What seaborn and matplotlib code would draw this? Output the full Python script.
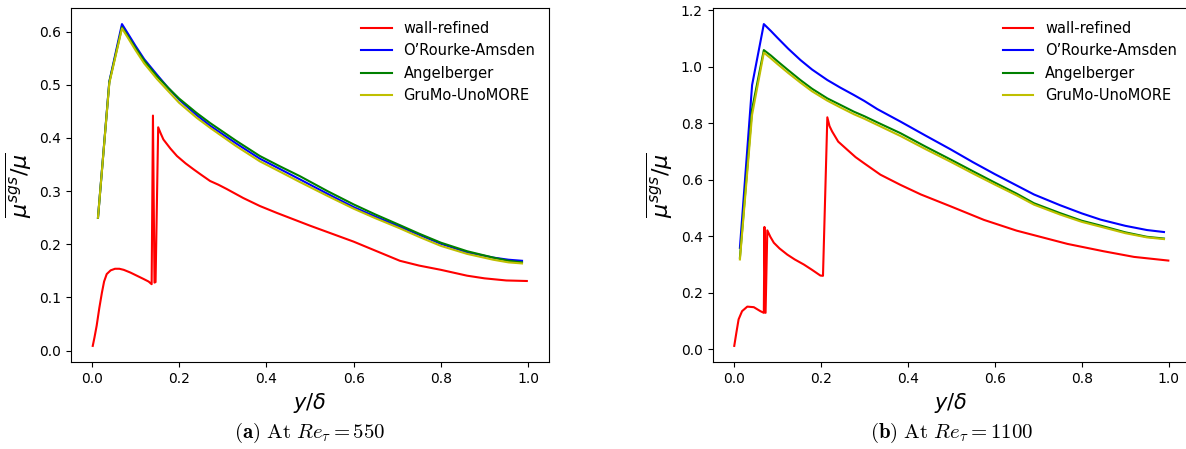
import matplotlib
matplotlib.use("Agg")
import matplotlib.pyplot as plt
import seaborn as sns

# ---------------------------------------------------------------------------
# Data (Re_tau = 550 and Re_tau = 1100)
# ---------------------------------------------------------------------------

series_names = ["wall-refined", "O\u2019Rourke-Amsden", "Angelberger", "GruMo-UnoMORE"]
series_colors = ["red", "blue", "green", "y"]

# Re_tau = 550
x550_wall = [0.002, 0.006, 0.011, 0.017, 0.023, 0.028, 0.034, 0.043, 0.053, 0.063,
             0.073, 0.088, 0.103, 0.118, 0.130, 0.137, 0.140, 0.1435, 0.146, 0.152,
             0.158, 0.164, 0.18, 0.195, 0.215, 0.233, 0.25, 0.271, 0.29, 0.309,
             0.347, 0.385, 0.424, 0.462, 0.5, 0.55, 0.6, 0.65, 0.706, 0.75,
             0.8, 0.86, 0.9, 0.95, 0.997]
y550_wall = [0.009, 0.025, 0.047, 0.080, 0.109, 0.130, 0.144, 0.151, 0.154, 0.154,
             0.152, 0.147, 0.141, 0.135, 0.130, 0.125, 0.442, 0.128, 0.129, 0.420,
             0.408, 0.397, 0.380, 0.366, 0.352, 0.341, 0.331, 0.319, 0.312, 0.304,
             0.287, 0.272, 0.259, 0.247, 0.235, 0.220, 0.205, 0.188, 0.169, 0.160,
             0.152, 0.141, 0.136, 0.132, 0.131]

x550_model = [0.014, 0.040, 0.069, 0.085, 0.10, 0.12, 0.149, 0.175, 0.2, 0.24,
              0.271, 0.33, 0.385, 0.43, 0.477, 0.54, 0.6, 0.65, 0.706, 0.75,
              0.8, 0.86, 0.92, 0.955, 0.986]
y550_oa = [0.250, 0.506, 0.614, 0.593, 0.573, 0.548, 0.519, 0.494, 0.472, 0.443,
           0.423, 0.390, 0.361, 0.342, 0.322, 0.295, 0.270, 0.252, 0.233, 0.218,
           0.201, 0.185, 0.175, 0.171, 0.169]
y550_ang = [0.250, 0.505, 0.608, 0.588, 0.569, 0.545, 0.516, 0.494, 0.474, 0.447,
            0.428, 0.395, 0.366, 0.347, 0.328, 0.300, 0.275, 0.256, 0.236, 0.220,
            0.203, 0.187, 0.175, 0.169, 0.166]
y550_grumo = [0.250, 0.503, 0.606, 0.585, 0.565, 0.540, 0.511, 0.488, 0.466, 0.438,
              0.419, 0.385, 0.356, 0.337, 0.317, 0.291, 0.267, 0.249, 0.230, 0.214,
              0.197, 0.182, 0.171, 0.166, 0.164]

# Re_tau = 1100
x1100_wall = [0.001, 0.006, 0.011, 0.019, 0.031, 0.046, 0.061, 0.069, 0.0704, 0.073,
              0.077, 0.084, 0.092, 0.105, 0.123, 0.14, 0.161, 0.18, 0.199, 0.205,
              0.215, 0.22, 0.226, 0.24, 0.261, 0.28, 0.299, 0.337, 0.383, 0.43,
              0.5, 0.575, 0.65, 0.767, 0.85, 0.92, 0.999]
y1100_wall = [0.012, 0.060, 0.106, 0.135, 0.151, 0.149, 0.135, 0.129, 0.433, 0.129,
              0.421, 0.398, 0.377, 0.357, 0.335, 0.318, 0.300, 0.281, 0.261, 0.260,
              0.821, 0.790, 0.771, 0.735, 0.706, 0.680, 0.659, 0.618, 0.582, 0.548,
              0.505, 0.458, 0.420, 0.373, 0.347, 0.327, 0.314]

x1100_model = [0.014, 0.042, 0.069, 0.085, 0.1, 0.125, 0.153, 0.18, 0.215, 0.245,
               0.276, 0.3, 0.33, 0.383, 0.44, 0.498, 0.55, 0.6, 0.65, 0.69,
               0.75, 0.8, 0.843, 0.9, 0.95, 0.989]
y1100_oa = [0.359, 0.935, 1.151, 1.127, 1.103, 1.064, 1.024, 0.990, 0.953, 0.926,
            0.900, 0.879, 0.850, 0.806, 0.757, 0.708, 0.662, 0.620, 0.580, 0.548,
            0.510, 0.481, 0.459, 0.437, 0.422, 0.415]
y1100_ang = [0.324, 0.850, 1.059, 1.040, 1.020, 0.988, 0.953, 0.922, 0.888, 0.865,
             0.841, 0.825, 0.803, 0.765, 0.718, 0.672, 0.630, 0.590, 0.551, 0.517,
             0.482, 0.455, 0.438, 0.414, 0.398, 0.392]
y1100_grumo = [0.318, 0.830, 1.050, 1.030, 1.010, 0.978, 0.944, 0.913, 0.880, 0.856,
               0.832, 0.816, 0.794, 0.755, 0.709, 0.664, 0.622, 0.583, 0.545, 0.512,
               0.477, 0.451, 0.434, 0.411, 0.396, 0.390]

captions = [r"$\mathbf{(a)}\ \mathrm{At}\ Re_{\tau}=550$",
            r"$\mathbf{(b)}\ \mathrm{At}\ Re_{\tau}=1100$"]

panels = [
    (x550_wall, y550_wall, x550_model, [y550_oa, y550_ang, y550_grumo]),
    (x1100_wall, y1100_wall, x1100_model, [y1100_oa, y1100_ang, y1100_grumo]),
]

# ---------------------------------------------------------------------------
# Figure
# ---------------------------------------------------------------------------

fig = plt.figure(figsize=(11.86, 4.49), dpi=100)
ax_left = fig.add_axes([0.0599, 0.1938, 0.4026, 0.7884])
ax_right = fig.add_axes([0.6008, 0.1938, 0.4026, 0.7884])

for ax, (xw, yw, xm, models), cap in zip([ax_left, ax_right], panels, captions):
    sns.lineplot(x=xw, y=yw, ax=ax, color=series_colors[0], label=series_names[0],
                 sort=False, estimator=None, linewidth=1.5)
    for ys, name, col in zip(models, series_names[1:], series_colors[1:]):
        sns.lineplot(x=xm, y=ys, ax=ax, color=col, label=name,
                     sort=False, estimator=None, linewidth=1.5)
    ax.set_xticks([0.0, 0.2, 0.4, 0.6, 0.8, 1.0])
    ax.set_xlabel(r"$y/\delta$", fontsize=15)
    ax.set_ylabel(r"$\overline{\mu^{sgs}/\mu}$", fontsize=16)
    ax.tick_params(labelsize=10)
    ax.legend(loc="upper right", frameon=False, fontsize=10.5, handlelength=2.1)
    pos = ax.get_position()
    fig.text(pos.x0 + pos.width / 2, 0.036, cap, ha="center", va="center",
             fontsize=15, math_fontfamily="cm")

ax_right.set_yticks([0.0, 0.2, 0.4, 0.6, 0.8, 1.0, 1.2])

fig.savefig("out.png", dpi=100)
